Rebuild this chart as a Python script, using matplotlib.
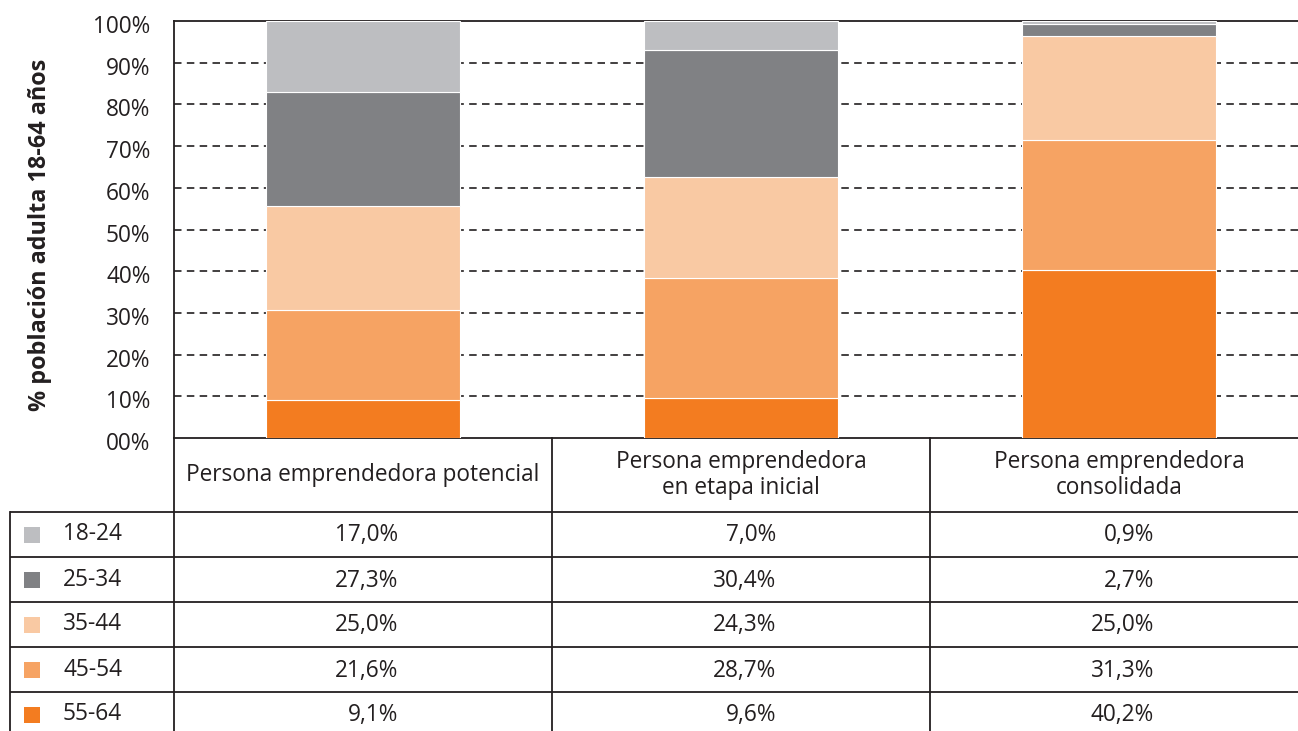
import matplotlib
matplotlib.use('Agg')
import matplotlib.pyplot as plt
import matplotlib.transforms as mtransforms
import numpy as np

# ---------------- data ----------------
categories = ["Persona emprendedora potencial",
              "Persona emprendedora\nen etapa inicial",
              "Persona emprendedora\nconsolidada"]
age_groups = ["18-24", "25-34", "35-44", "45-54", "55-64"]
v_18_24 = [17.0, 7.0, 0.9]
v_25_34 = [27.3, 30.4, 2.7]
v_35_44 = [25.0, 24.3, 25.0]
v_45_54 = [21.6, 28.7, 31.3]
v_55_64 = [9.1, 9.6, 40.2]
y_ticks = [0, 10, 20, 30, 40, 50, 60, 70, 80, 90, 100]
y_tick_labels = ["00%", "10%", "20%", "30%", "40%", "50%", "60%", "70%", "80%", "90%", "100%"]
y_label = "% población adulta 18-64 años"

series = {"18-24": v_18_24, "25-34": v_25_34, "35-44": v_35_44,
          "45-54": v_45_54, "55-64": v_55_64}
colors = {"18-24": "#BDBEC1", "25-34": "#808184", "35-44": "#F9C9A3",
          "45-54": "#F6A363", "55-64": "#F37C20"}

def fmt(v):
    return ("%.1f%%" % v).replace(".", ",")

# ---------------- style ----------------
plt.rcParams['font.family'] = ['Open Sans', 'DejaVu Sans']
FS = 16.3
TXT = "#231F20"
W, H = 1298, 731
fig = plt.figure(figsize=(W / 100, H / 100), dpi=100)

ax_left, ax_top, ax_bottom = 174, 21, 438
col_w = 378
ax = fig.add_axes([ax_left / W, 1 - ax_bottom / H, 3 * col_w / W, (ax_bottom - ax_top) / H])

x = np.arange(len(categories)) + 0.5
bottom = np.zeros(len(categories))
for g in reversed(age_groups):
    vals = np.array(series[g])
    ax.bar(x, vals, 0.513, bottom=bottom, color=colors[g], edgecolor='white',
           linewidth=0.8, zorder=3)
    bottom += vals

ax.set_xlim(0, 3)
ax.set_ylim(0, 100)
for yv in y_ticks[1:-1]:
    ax.axhline(yv, color=TXT, lw=1.2, ls=(0, (4.5, 3.2)), zorder=1)

ax.set_xticks([])
ax.set_yticks(y_ticks)
ax.set_yticklabels(y_tick_labels, fontsize=FS, color=TXT)
ax.tick_params(axis='y', length=0, pad=17)
offset = mtransforms.ScaledTranslation(0, -3 / 100, fig.dpi_scale_trans)
for lab in ax.get_yticklabels():
    lab.set_transform(lab.get_transform() + offset)
for s in ['left', 'top', 'bottom']:
    ax.spines[s].set_color(TXT)
    ax.spines[s].set_linewidth(1.3)
ax.spines['right'].set_visible(False)

fig.text(40 / W, 1 - 235 / H, y_label, rotation=90, ha='center', va='center',
         fontsize=16.8, fontweight='bold', color=TXT)

# ---------------- table ----------------
tax = fig.add_axes([0, 0, 1, 1])
tax.set_xlim(0, W)
tax.set_ylim(H, 0)
tax.axis('off')
trans = mtransforms.blended_transform_factory(ax.transData, tax.transData)

header_bottom = 512
row_h = 45
tbl_left = 10
lw = 1.3

# header texts
for i, c in enumerate(categories):
    tax.text(x[i], (ax_bottom + header_bottom) / 2, c, transform=trans,
             ha='center', va='center', fontsize=FS, color=TXT, linespacing=1.15)

# horizontal lines
for r in range(len(age_groups)):
    yl = header_bottom + r * row_h
    tax.plot([tbl_left, W], [yl, yl], color=TXT, lw=lw, solid_capstyle='butt')
# vertical lines
tax.plot([tbl_left, tbl_left], [header_bottom, H + 5], color=TXT, lw=lw)
for k in range(len(categories)):
    tax.plot([k, k], [ax_bottom, H + 5], color=TXT, lw=lw, transform=trans)

# rows
for r, g in enumerate(age_groups):
    yc = header_bottom + r * row_h + row_h / 2
    tax.add_patch(plt.Rectangle((24, yc - 8), 16, 16, color=colors[g], lw=0))
    tax.text(63, yc, g, ha='left', va='center', fontsize=FS, color=TXT)
    for i, v in enumerate(series[g]):
        tax.text(x[i] + 35 / col_w, yc + 1, fmt(v), transform=trans,
                 ha='right', va='center', fontsize=FS, color=TXT)

fig.savefig("out.png", dpi=100)
